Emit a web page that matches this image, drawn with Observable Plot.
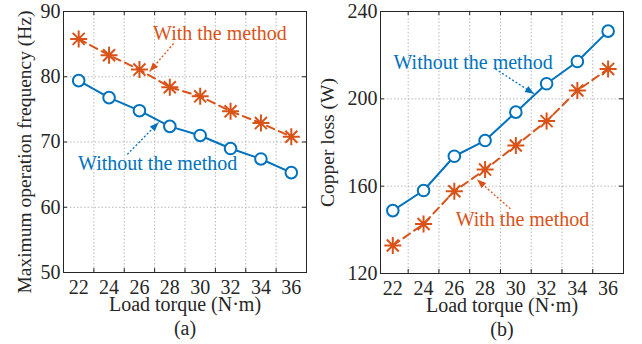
<!DOCTYPE html>
<html><head><meta charset="utf-8">
<script src="https://cdn.jsdelivr.net/npm/d3@7"></script>
<script src="https://cdn.jsdelivr.net/npm/@observablehq/plot@0.6"></script>
<style>
html,body{margin:0;padding:0;background:#fff;}
#wrap{display:flex;width:642px;height:344px;overflow:hidden;}
#wrap svg, #wrap svg text { font-family: "Liberation Serif", "DejaVu Serif", serif !important; }
</style></head><body><div id="wrap"></div>
<script>
// ---- data ----
const torque = [22, 24, 26, 28, 30, 32, 34, 36];
const gridTorque = [23, 25, 27, 29, 31, 33, 35];
const freqWithout = [79.4, 76.8, 74.8, 72.4, 71.0, 69.0, 67.4, 65.3];
const freqWith = [85.8, 83.3, 81.1, 78.4, 77.0, 74.7, 72.9, 70.8];
const freqTicks = [50, 60, 70, 80, 90];
const lossWithout = [148.8, 158.0, 173.7, 180.9, 193.9, 206.9, 217.1, 231.0];
const lossWith = [132.8, 142.7, 157.7, 167.6, 178.6, 189.8, 203.8, 213.7];
const lossTicks = [120, 160, 200, 240];
const xLabel = "Load torque (N·m)";
const freqLabel = "Maximum operation frequency (Hz)";
const lossLabel = "Copper loss (W)";
const noteWith = "With the method";
const noteWithout = "Without the method";
// annotation anchors (data coordinates)
const freqNotes = [
  {series: "with", text: noteWith, x: 31.3, y: 86.6},
  {series: "without", text: noteWithout, x: 27.2, y: 66.7}
];
const freqArrows = [
  {series: "with", x1: 28.25, y1: 85.1, x2: 26.67, y2: 80.8},
  {series: "without", x1: 25.2, y1: 68.1, x2: 27.26, y2: 73.0}
];
const lossNotes = [
  {series: "with", text: noteWith, x: 30.43, y: 144.7},
  {series: "without", text: noteWithout, x: 27.22, y: 216.8}
];
const lossArrows = [
  {series: "with", x1: 29.65, y1: 149.6, x2: 27.48, y2: 163.0},
  {series: "without", x1: 28.67, y1: 213.7, x2: 31.18, y2: 202.3}
];

// ---- styling ----
const BLUE = "#0072BD", ORANGE = "#D95319", INK = "#262626", GRID = "#b8b8b8";
const FONT = "'Liberation Serif', 'DejaVu Serif', serif";
const colorOf = s => s === "with" ? ORANGE : BLUE;

const starSymbol = {
  draw(ctx, size) {
    const r = Math.sqrt(size / Math.PI);
    for (let k = 0; k < 4; k++) {
      const a = k * Math.PI / 4, c = Math.cos(a) * r, s = Math.sin(a) * r;
      ctx.moveTo(c, s); ctx.lineTo(-c, -s);
    }
  }
};
const headSymbol = {
  draw(ctx) { ctx.moveTo(0, 0); ctx.lineTo(-3.5, 9); ctx.lineTo(3.5, 9); ctx.closePath(); }
};

function panel(cfg) {
  const W = 321, H = 344, mt = 11;
  const innerW = W - cfg.ml - cfg.mr, innerH = H - mt - cfg.mb;
  const kx = innerW / (cfg.xDomain[1] - cfg.xDomain[0]);
  const ky = innerH / (cfg.yDomain[1] - cfg.yDomain[0]);
  const angle = a => Math.atan2(-(a.y2 - a.y1) * ky, (a.x2 - a.x1) * kx) * 180 / Math.PI + 90;
  const rowsWithout = torque.map((t, i) => ({t, v: cfg.without[i]}));
  const rowsWith = torque.map((t, i) => ({t, v: cfg.with[i]}));
  const marks = [
    Plot.ruleX(gridTorque, {x: d => d, stroke: GRID, strokeDasharray: "1.5,2"}),
    Plot.ruleY(cfg.yTicks, {y: d => d, stroke: GRID, strokeDasharray: "1.5,2"}),
    Plot.ruleX(gridTorque, {x: d => d, insetTop: innerH - 4, stroke: INK}),
    Plot.ruleX(gridTorque, {x: d => d, insetBottom: innerH - 4, stroke: INK}),
    Plot.ruleY(cfg.yTicks, {y: d => d, insetRight: innerW - 4, stroke: INK}),
    Plot.ruleY(cfg.yTicks, {y: d => d, insetLeft: innerW - 4, stroke: INK}),
    Plot.frame({stroke: INK}),
    Plot.line(rowsWith, {x: "t", y: "v", stroke: ORANGE, strokeWidth: 2, strokeDasharray: "8,5"}),
    Plot.dot(rowsWith, {x: "t", y: "v", symbol: starSymbol, r: 8.5, stroke: ORANGE, strokeWidth: 2, fill: "none"}),
    Plot.line(rowsWithout, {x: "t", y: "v", stroke: BLUE, strokeWidth: 2}),
    Plot.dot(rowsWithout, {x: "t", y: "v", r: 5.8, stroke: BLUE, strokeWidth: 2, fill: "white"})
  ];
  for (const s of ["with", "without"]) {
    const arr = cfg.arrows.filter(a => a.series === s);
    const notes = cfg.notes.filter(n => n.series === s);
    marks.push(
      Plot.link(arr, {x1: "x1", y1: "y1", x2: "x2", y2: "y2", stroke: colorOf(s), strokeWidth: 1.3, strokeDasharray: "2,2"}),
      Plot.dot(arr, {x: "x2", y: "y2", symbol: headSymbol, r: 4, fill: colorOf(s), stroke: "none", rotate: angle}),
      Plot.text(notes, {x: "x", y: "y", text: "text", fill: colorOf(s), fontSize: 20, fontFamily: FONT})
    );
  }
  marks.push(
    Plot.text([cfg.yLabel], {text: d => d, frameAnchor: "left", textAnchor: "middle", lineAnchor: "middle", rotate: -90, dx: cfg.yLabelDx, dy: cfg.yLabelDy, fill: INK, fontSize: 19.5, fontFamily: FONT}),
    Plot.text([xLabel], {text: d => d, frameAnchor: "bottom", textAnchor: "middle", lineAnchor: "middle", dy: 32, fill: INK, fontSize: 20, fontFamily: FONT}),
    Plot.text([cfg.caption], {text: d => d, frameAnchor: "bottom", textAnchor: "middle", lineAnchor: "middle", dy: 56, fill: INK, fontSize: 20, fontFamily: FONT})
  );
  return Plot.plot({
    width: W, height: H, marginTop: mt, marginBottom: cfg.mb, marginLeft: cfg.ml, marginRight: cfg.mr,
    style: {fontFamily: FONT, fontSize: "20px", color: INK, background: "white", overflow: "visible"},
    x: {domain: cfg.xDomain, ticks: torque, tickSize: 0, tickPadding: 7, label: null},
    y: {domain: cfg.yDomain, ticks: cfg.yTicks, tickSize: 0, tickPadding: 3, label: null},
    marks
  });
}

const wrap = document.getElementById("wrap");
wrap.appendChild(panel({
  xDomain: [21, 37], yDomain: [50, 90], yTicks: freqTicks,
  with: freqWith, without: freqWithout, notes: freqNotes, arrows: freqArrows,
  yLabel: freqLabel, yLabelDx: -39, yLabelDy: 10, caption: "(a)", ml: 63, mr: 15, mb: 72
}));
wrap.appendChild(panel({
  xDomain: [21.2, 37], yDomain: [120, 240], yTicks: lossTicks,
  with: lossWith, without: lossWithout, notes: lossNotes, arrows: lossArrows,
  yLabel: lossLabel, yLabelDx: -53, yLabelDy: 0, caption: "(b)", ml: 59, mr: 19, mb: 71
}));
</script></body></html>
